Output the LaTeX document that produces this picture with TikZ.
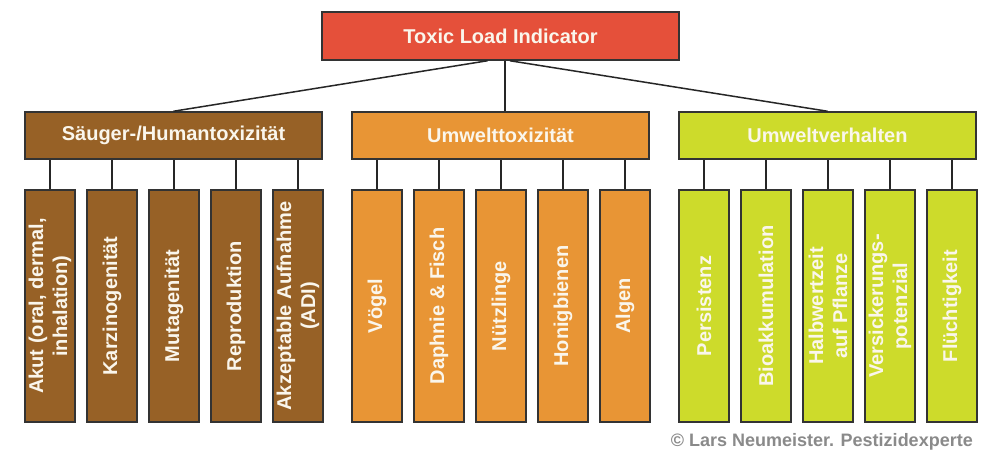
\documentclass[tikz,border=0pt]{standalone}
\usepackage{fontspec}
\setmainfont{Liberation Sans}
\definecolor{tlred}{HTML}{E5503A}
\definecolor{tlbrown}{HTML}{976126}
\definecolor{tlorange}{HTML}{E89535}
\definecolor{tllime}{HTML}{CDDB2B}
\definecolor{tlborder}{HTML}{333333}
\definecolor{tltext}{HTML}{FAF6EC}
\definecolor{tlgray}{HTML}{8A8A8A}
\begin{document}
\begin{tikzpicture}[x=1pt,y=-1pt,
  basebox/.style={draw=tlborder, line width=1.5pt, rectangle, inner sep=0pt,
    text=tltext, font=\fontsize{20}{24}\selectfont\bfseries, align=center},
  topbox/.style={basebox, fill=tlred, minimum width=357pt, minimum height=48pt},
  catbox/.style={basebox, minimum width=297pt, minimum height=47pt},
  leafbox/.style={basebox, rotate=90, minimum width=232pt, minimum height=50pt},
  conn/.style={draw=black!85, line width=1.5pt}]
\useasboundingbox (0,0) rectangle (1000,464);
\fill[white] (0,0) rectangle (1000,464);

\node[topbox] (top) at (500.5,36) {Toxic Load Indicator};

\node[catbox, fill=tlbrown] (c1) at (173.5,135.5) {Säuger-/Humantoxizität};
\node[catbox, fill=tlorange] (c2) at (500.5,135.5) {Umwelttoxizität};
\node[catbox, fill=tllime] (c3) at (827.5,135.5) {Umweltverhalten};

\draw[conn] ([xshift=-13pt]top.south) -- (c1.north);
\draw[conn] ([xshift=4.5pt]top.south) -- ([xshift=4.5pt]c2.north);
\draw[conn] ([xshift=9.5pt]top.south) -- (c3.north);

% group 1
\node[leafbox, fill=tlbrown] (l11) at (50,306) {Akut (oral, dermal,\\inhalation)};
\node[leafbox, fill=tlbrown] (l12) at (112,306) {Karzinogenität};
\node[leafbox, fill=tlbrown] (l13) at (174,306) {Mutagenität};
\node[leafbox, fill=tlbrown] (l14) at (236,306) {Reproduktion};
\node[leafbox, fill=tlbrown] (l15) at (298,306) {Akzeptable Aufnahme\\(ADI)};
% group 2
\node[leafbox, fill=tlorange] (l21) at (377,306) {Vögel};
\node[leafbox, fill=tlorange] (l22) at (439,306) {Daphnie \& Fisch};
\node[leafbox, fill=tlorange] (l23) at (501,306) {Nützlinge};
\node[leafbox, fill=tlorange] (l24) at (563,306) {Honigbienen};
\node[leafbox, fill=tlorange] (l25) at (625,306) {Algen};
% group 3
\node[leafbox, fill=tllime] (l31) at (704,306) {Persistenz};
\node[leafbox, fill=tllime] (l32) at (766,306) {Bioakkumulation};
\node[leafbox, fill=tllime] (l33) at (828,306) {Halbwertzeit\\auf Pflanze};
\node[leafbox, fill=tllime] (l34) at (890,306) {Versickerungs-\\potenzial};
\node[leafbox, fill=tllime] (l35) at (952,306) {Flüchtigkeit};

\foreach \g in {1,2,3}{
  \foreach \i in {1,...,5}{
    \draw[conn] (l\g\i.east) -- (l\g\i.east |- c\g.south);
  }
}

\node[anchor=base east, inner sep=0pt, text=tlgray,
  font=\fontsize{18}{20}\selectfont\bfseries] (copy) at (973,446)
  {© Lars Neumeister. Pestizidexperte};
\end{tikzpicture}
\end{document}
